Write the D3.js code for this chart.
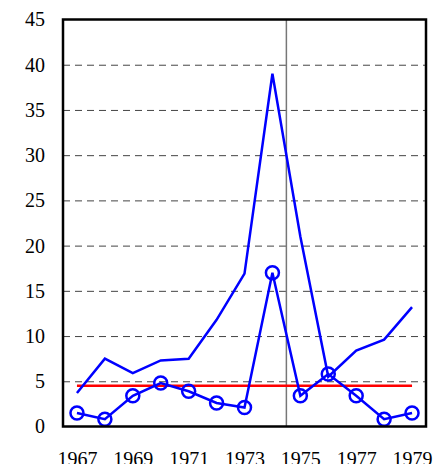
<!DOCTYPE html>
<html>
<head>
<meta charset="utf-8">
<script src="https://cdn.jsdelivr.net/npm/d3@7"></script>
<style>
  body { margin: 0; background: #fff; }
  .axis text { font-family: "Liberation Serif", "Times New Roman", serif; font-size: 20px; fill: #000; }
  .axis path { display: none; }
</style>
</head>
<body>
<script>
// yearly values
var years = [1967,1968,1969,1970,1971,1972,1973,1974,1975,1976,1977,1978,1979];
var lineValues = [3.7,7.5,5.9,7.3,7.5,11.8,16.9,39.0,21.0,5.5,8.4,9.6,13.2];
var circleValues = [1.5,0.8,3.4,4.8,3.9,2.6,2.1,17.0,3.4,5.8,3.4,0.8,1.5];
var xTicks = [1967,1969,1971,1973,1975,1977,1979];
var yTicks = [0,5,10,15,20,25,30,35,40,45];
var gridTicks = [5,10,15,20,25,30,35,40];
var refLevel = 4.5;      // red horizontal line
var splitYear = 1974.5;  // gray vertical line

var width = 435, height = 464;
var plot = {left: 63, right: 426, top: 19.5, bottom: 426.5};

var x = d3.scaleLinear().domain([1966.5, 1979.5]).range([plot.left, plot.right]);
var y = d3.scaleLinear().domain([0, 45]).range([plot.bottom, plot.top]);

var svg = d3.select("body").append("svg")
    .attr("width", width).attr("height", height);

// dashed gridlines
var grid = svg.append("g")
    .attr("transform", "translate(" + plot.left + ",0)")
    .call(d3.axisLeft(y).tickValues(gridTicks).tickSize(-(plot.right - plot.left)).tickFormat(""));
grid.select(".domain").remove();
grid.selectAll("line")
    .attr("stroke", "#444")
    .attr("stroke-width", 1)
    .attr("stroke-dasharray", "7,5");

// vertical split line
svg.append("line")
    .attr("x1", x(splitYear)).attr("x2", x(splitYear))
    .attr("y1", plot.top).attr("y2", plot.bottom)
    .attr("stroke", "#777")
    .attr("stroke-width", 1.5);

// axes labels
svg.append("g")
    .attr("class", "axis")
    .attr("transform", "translate(" + plot.left + ",0)")
    .call(d3.axisLeft(y).tickValues(yTicks).tickSize(0).tickPadding(18));

svg.append("g")
    .attr("class", "axis")
    .attr("transform", "translate(0," + plot.bottom + ")")
    .call(d3.axisBottom(x).tickValues(xTicks).tickFormat(d3.format("d")).tickSize(0).tickPadding(25));

// red reference line
svg.append("line")
    .attr("x1", x(years[0])).attr("x2", x(years[years.length - 1]))
    .attr("y1", y(refLevel)).attr("y2", y(refLevel))
    .attr("stroke", "#ff0000")
    .attr("stroke-width", 2.5);

var line = d3.line()
    .x(function(d, i) { return x(years[i]); })
    .y(function(d) { return y(d); });

svg.append("path")
    .datum(lineValues)
    .attr("d", line)
    .attr("fill", "none")
    .attr("stroke", "#0000ff")
    .attr("stroke-width", 2.5);

svg.append("path")
    .datum(circleValues)
    .attr("d", line)
    .attr("fill", "none")
    .attr("stroke", "#0000ff")
    .attr("stroke-width", 2.5);

svg.selectAll("circle.pt")
    .data(circleValues)
    .enter().append("circle")
    .attr("class", "pt")
    .attr("cx", function(d, i) { return x(years[i]); })
    .attr("cy", function(d) { return y(d); })
    .attr("r", 6.5)
    .attr("fill", "none")
    .attr("stroke", "#0000ff")
    .attr("stroke-width", 2.5);

// frame
svg.append("rect")
    .attr("x", plot.left).attr("y", plot.top)
    .attr("width", plot.right - plot.left).attr("height", plot.bottom - plot.top)
    .attr("fill", "none")
    .attr("stroke", "#000")
    .attr("stroke-width", 2.5);
</script>
</body>
</html>
